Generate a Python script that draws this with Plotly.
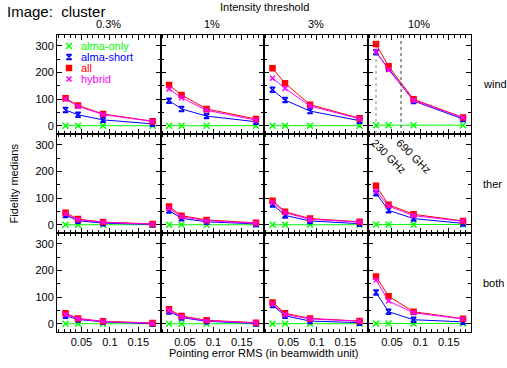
import plotly.graph_objects as go
from plotly.subplots import make_subplots

# ---------------- data ----------------
thresholds = ["0.3%", "1%", "3%", "10%"]
components = ["wind", "ther", "both"]
pointing_rms = [0.022, 0.044, 0.088, 0.175]
freq_lines = [0.022, 0.066]
freq_labels = ["230 GHz", "690 GHz"]
series_names = ["alma-only", "alma-short", "all", "hybrid"]

# one inner list per threshold column (0.3%, 1%, 3%, 10%)
wind_only = [[1, 1, 1, 1], [1, 1, 1, 1], [1, 1, 1, 1], [3, 3, 3, 3]]
wind_short = [[60, 42, 23, 8], [95, 64, 37, 16], [136, 97, 56, 20], [276, 216, 94, 26]]
wind_all = [[104, 77, 45, 18], [154, 116, 64, 26], [216, 160, 80, 29], [307, 224, 100, 32]]
wind_hybrid = [[101, 74, 43, 17], [139, 106, 59, 22], [179, 141, 75, 27], [279, 211, 96, 31]]

ther_only = [[1, 1, 1, 1], [1, 1, 1, 1], [1, 1, 1, 1], [2, 2, 2, 2]]
ther_short = [[37, 16, 7, 2], [54, 25, 12, 4], [77, 36, 15, 5], [119, 55, 24, 6]]
ther_all = [[46, 22, 11, 4], [69, 35, 19, 8], [91, 50, 24, 12], [147, 76, 40, 15]]
ther_hybrid = [[41, 20, 10, 3], [62, 31, 16, 6], [85, 46, 21, 11], [127, 71, 35, 14]]

both_only = [[1, 1, 1, 1], [1, 1, 1, 1], [1, 1, 1, 1], [2, 2, 2, 2]]
both_short = [[31, 17, 8, 1], [47, 24, 10, 2], [71, 31, 11, 5], [118, 46, 16, 8]]
both_all = [[40, 21, 10, 4], [55, 30, 14, 5], [81, 40, 21, 11], [178, 104, 46, 20]]
both_hybrid = [[36, 20, 9, 3], [51, 27, 12, 4], [75, 36, 19, 10], [165, 86, 42, 19]]

rows_data = [
    [wind_only, wind_short, wind_all, wind_hybrid],
    [ther_only, ther_short, ther_all, ther_hybrid],
    [both_only, both_short, both_all, both_hybrid],
]

# ---------------- styles ----------------
colors = ["#00ff00", "#0000ff", "#ff0000", "#ff00ff"]
symbols = ["x-thin-open", "hourglass-open", "square", "x-thin-open"]
msizes = [6, 5, 5, 5]
FONT = "Liberation Sans, Arial, sans-serif"

W, H = 507, 368
L, R, T, B = 57, 36, 35, 36

fig = make_subplots(rows=3, cols=4, horizontal_spacing=0, vertical_spacing=0)

for r in range(3):
    for c in range(4):
        for s in range(4):
            fig.add_trace(go.Scatter(
                x=pointing_rms, y=rows_data[r][s][c], mode="lines+markers",
                line=dict(color=colors[s], width=1),
                marker=dict(symbol=symbols[s], size=msizes[s], color=colors[s],
                            line=dict(color=colors[s], width=1.5)),
                showlegend=False, hoverinfo="skip"), row=r + 1, col=c + 1)
        fig.update_xaxes(row=r + 1, col=c + 1, range=[0.007, 0.189],
                         tickmode="linear", tick0=0, dtick=0.05,
                         ticks="inside", ticklen=5, tickcolor="black",
                         minor=dict(dtick=0.01, tick0=0, ticks="inside", ticklen=3, tickcolor="black"),
                         showline=True, linecolor="black", linewidth=1, mirror="allticks",
                         showgrid=False, zeroline=False, showticklabels=(r == 2),
                         tickfont=dict(family=FONT, size=11, color="black"))
        fig.update_yaxes(row=r + 1, col=c + 1, range=[-30, 341],
                         tickmode="linear", tick0=0, dtick=100,
                         ticks="inside", ticklen=5, tickcolor="black",
                         minor=dict(dtick=50, tick0=0, ticks="inside", ticklen=3, tickcolor="black"),
                         showline=True, linecolor="black", linewidth=1, mirror="allticks",
                         showgrid=False, zeroline=False, showticklabels=(c == 0),
                         tickfont=dict(family=FONT, size=11, color="black"))

# legend (overlay axes on first panel, fractional positions)
leg_y = [0.889, 0.778, 0.667, 0.556]
fig.update_layout(
    xaxis13=dict(overlaying="x", range=[0, 1], visible=False, anchor="y13"),
    yaxis13=dict(overlaying="y", range=[0, 1], visible=False, anchor="x13"),
)
for s in range(4):
    fig.add_trace(go.Scatter(
        x=[0.116], y=[leg_y[s]], xaxis="x13", yaxis="y13", mode="markers",
        marker=dict(symbol=symbols[s], size=msizes[s], color=colors[s],
                    line=dict(color=colors[s], width=1.5)),
        showlegend=False, hoverinfo="skip"))
    fig.add_annotation(x=0.22, y=leg_y[s], xref="x13", yref="y13", text=series_names[s],
                       showarrow=False, xanchor="left", yanchor="middle", borderpad=0,
                       font=dict(family=FONT, size=11, color=colors[s]))

# frequency lines on wind/10% panel
for fx, col in zip(freq_lines, ["#888888", "#333333"]):
    fig.add_shape(type="line", xref="x4", yref="y4 domain", x0=fx, x1=fx, y0=0, y1=1,
                  line=dict(color=col, width=1, dash="dot"))
for fx, lab in zip(freq_lines, freq_labels):
    fig.add_annotation(x=fx + 0.022, y=258, xref="x8", yref="y8", text=lab, showarrow=False,
                       textangle=45, font=dict(family=FONT, size=11, color="black"))

pw, ph = W - L - R, H - T - B
def px(xp):
    return (xp - L) / pw
def py(yp):
    return (H - B - yp) / ph

fig.add_annotation(x=px(5), y=py(11.5), xref="paper", yref="paper", text="Image:  cluster",
                   showarrow=False, xanchor="left", yanchor="middle",
                   font=dict(family=FONT, size=15, color="black"))
fig.add_annotation(x=0.5, y=py(7), xref="paper", yref="paper", text="Intensity threshold",
                   showarrow=False, xanchor="center", yanchor="middle",
                   font=dict(family=FONT, size=11, color="black"))
for c, lab in enumerate(thresholds):
    fig.add_annotation(x=(c + 0.5) / 4, y=py(23.5), xref="paper", yref="paper", text=lab,
                       showarrow=False, xanchor="center", yanchor="middle",
                       font=dict(family=FONT, size=11, color="black"))
for r, lab in enumerate(components):
    fig.add_annotation(x=px(481), y=1 - (r + 0.5) / 3, xref="paper", yref="paper", text=lab,
                       showarrow=False, xanchor="left", yanchor="middle",
                       font=dict(family=FONT, size=11, color="black"))
fig.add_annotation(x=px(13), y=0.5, xref="paper", yref="paper", text="Fidelity medians",
                   showarrow=False, textangle=-90, xanchor="center", yanchor="middle",
                   font=dict(family=FONT, size=11, color="black"))
fig.add_annotation(x=0.5, y=py(353), xref="paper", yref="paper",
                   text="Pointing error RMS (in beamwidth unit)",
                   showarrow=False, xanchor="center", yanchor="middle",
                   font=dict(family=FONT, size=11, color="black"))

fig.update_layout(width=W, height=H, margin=dict(l=L, r=R, t=T, b=B, pad=0),
                  paper_bgcolor="white", plot_bgcolor="white", showlegend=False)

fig.write_html("out.html", config={"displayModeBar": False, "staticPlot": True},
               post_script="document.body.style.margin='0';")
